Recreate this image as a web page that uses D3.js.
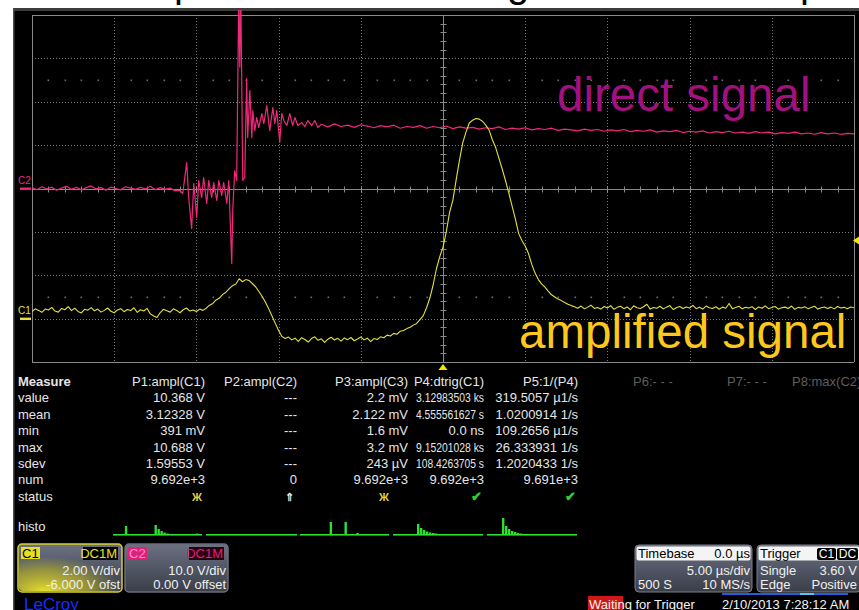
<!DOCTYPE html>
<html><head><meta charset="utf-8">
<script src="https://cdn.jsdelivr.net/npm/d3@7"></script>
<style>
html,body{margin:0;padding:0;background:#fff;overflow:hidden}
svg{display:block;font-family:"Liberation Sans",Arial,sans-serif}
</style></head><body>
<svg id="scope" width="859" height="610"></svg>
<script>
// ---- acquisition settings ----
// timebase 5.00 µs/div over 10 divisions, trigger at screen centre
const timeDomain = [-25, 25];
// C1: 2.00 V/div, -6.000 V offset -> screen spans -2 .. 14 V
const c1Domain = [-2, 14];
// C2: 10.0 V/div, 0.00 V offset -> screen spans -40 .. 40 V
const c2Domain = [-40, 40];
const triggerLevel = 3.60;

// ---- C1 (amplified signal), sampled every 0.2 µs from -25 µs ----
const c1Start = -25, c1Step = 0.2;
const c1Volts = [
  0.33,0.45,0.38,0.29,0.44,0.40,0.52,0.35,0.30,0.47,
  0.41,0.55,0.37,0.48,0.33,0.26,0.43,0.39,0.51,0.36,
  0.44,0.30,0.38,0.49,0.34,0.27,0.40,0.46,0.32,0.42,
  0.37,0.50,0.29,0.41,0.35,0.47,0.22,0.12,0.05,0.28,
  0.43,0.36,0.30,0.45,0.38,0.27,0.41,0.49,0.35,0.40,
  0.33,0.44,0.38,
  0.48,0.62,0.70,0.86,0.95,1.12,1.22,1.38,1.52,1.60,1.84,1.70,1.80,1.76,1.62,1.47,1.25,1.02,0.76,0.45,0.12,-0.22,-0.55,-0.82,-0.92,
  -0.85,-0.98,-0.90,-1.05,-0.88,-0.96,-1.08,-0.92,-0.84,-1.00,-0.93,-1.10,-0.95,-0.86,-0.99,-0.91,-1.04,-0.89,-0.97,-0.87,-1.02,-0.94,-0.85,-0.98,-0.90,-1.06,-0.92,-0.96,
  -0.84,-0.88,-0.76,-0.80,-0.68,-0.72,-0.58,-0.55,-0.46,-0.40,-0.30,-0.22,-0.05,0.14,0.50,0.95,1.55,2.30,2.85,3.30,
  4.00,4.90,5.45,6.40,7.30,8.10,8.60,9.02,9.15,9.23,9.20,9.10,8.92,8.70,8.25,7.90,7.40,6.90,6.37,5.80,
  5.20,4.60,3.93,3.60,3.35,3.00,2.50,2.10,1.80,1.60,1.45,1.27,1.10,1.00,0.90,0.83,0.74,0.66,0.60,
  0.55,0.48,0.58,0.45,0.53,0.62,0.47,0.51,0.44,0.56,
  0.49,0.60,0.43,0.52,0.57,0.46,0.54,0.41,0.59,0.50,
  0.47,0.55,0.66,0.44,0.51,0.48,0.57,0.45,0.53,0.60,
  0.42,0.50,0.56,0.47,0.54,0.49,0.61,0.46,0.52,0.44,
  0.58,0.50,0.47,0.55,0.43,0.53,0.48,0.70,0.46,0.51,
  0.57,0.45,0.52,0.49,0.55,0.42,0.54,0.48,0.59,0.46,
  0.51,0.56,0.44,0.50,0.53,0.47,0.58,0.43,0.52,0.49,
  0.55,0.46,0.51,0.57,0.44,0.50,0.54,0.47,0.53,0.45,
  0.56,0.49,0.52,0.46,0.54,0.50
];

// ---- C2 (direct signal), [time µs, volts] ----
const c2Points = [
  [-25.0,0.2],[-24.7,-0.3],[-24.4,0.4],[-24.1,-0.1],[-23.8,0.3],[-23.5,-0.4],[-23.2,0.1],[-22.9,0.5],[-22.6,-0.2],[-22.3,0.3],
  [-22.0,-0.3],[-21.7,0.2],[-21.4,0.6],[-21.1,-0.1],[-20.8,0.2],[-20.5,-0.4],[-20.2,0.3],[-19.9,0.0],[-19.6,-0.3],[-19.3,0.4],
  [-19.0,0.1],[-18.7,-0.2],[-18.4,0.3],[-18.1,-0.1],[-17.8,0.5],[-17.5,-0.3],[-17.2,0.2],[-16.9,-0.2],[-16.6,0.1],[-16.3,-0.5],
  [-16.02,-0.46],[-15.83,-1.15],[-15.59,5.99],[-15.47,-2.07],[-15.29,-9.22],[-15.16,1.15],[-14.98,-6.68],[-14.86,1.84],
  [-14.68,-2.07],[-14.56,2.53],[-14.37,-3.46],[-14.25,1.84],[-14.07,-2.07],[-13.95,1.38],[-13.76,-2.76],[-13.64,1.84],
  [-13.46,-1.61],[-13.34,1.38],[-13.15,-3.46],[-13.03,1.84],[-12.85,-17.28],[-12.79,-5.07],[-12.67,4.15],[-12.55,1.84],
  [-12.42,45],[-12.36,28],[-12.30,45],[-12.18,1.84],[-12.06,2.53],[-11.94,25.35],[-11.88,11.75],[-11.75,22.58],
  [-11.63,11.75],[-11.57,17.97],[-11.45,13.36],[-11.33,16.36],[-11.21,14.06],[-11.02,17.28],[-10.90,14.98],[-10.72,19.12],
  [-10.54,13.36],[-10.35,18.66],[-10.23,14.98],[-10.11,17.97],[-9.93,10.6],[-9.81,17.28],[-9.68,15.67],[-9.50,14.52],
  [-9.32,17.28],[-9.14,14.52],[-9.01,16.36],[-8.83,14.52],[-8.59,15.2],[-8.40,14.29],[-8.22,15.67],[-7.98,14.52],
  [-7.80,15.67],[-7.61,14.06],
  [-7.4,14.8],[-7.0,14.2],[-6.6,14.9],[-6.2,14.3],[-5.8,14.6],[-5.4,14.1],[-5.0,14.7],[-4.6,14.4],[-4.2,14.0],[-3.8,14.5],
  [-3.4,14.2],[-3.0,14.6],[-2.6,13.9],[-2.2,14.3],[-1.8,14.1],[-1.4,14.5],[-1.0,13.9],[-0.6,14.3],[-0.2,14.0],[0.2,14.4],
  [0.6,13.8],[1.0,14.2],[1.4,13.9],[1.8,14.1],[2.2,13.7],[2.6,14.0],[3.0,13.8],[3.4,14.2],[3.8,13.6],[4.2,13.9],
  [4.6,13.7],[5.0,14.0],[5.4,13.5],[5.8,13.8],[6.2,13.6],[6.6,13.9],[7.0,13.4],[7.4,13.7],[7.8,13.5],[8.2,13.3],
  [8.6,13.7],[9.0,13.4],[9.4,13.6],[9.8,13.2],[10.2,13.5],[10.6,13.3],[11.0,13.6],[11.4,13.1],[11.8,13.4],[12.2,13.2],
  [12.6,13.5],[13.0,13.0],[13.4,13.3],[13.8,13.1],[14.2,13.4],[14.6,12.9],[15.0,13.2],[15.4,13.0],[15.8,13.3],[16.2,12.8],
  [16.6,13.1],[17.0,12.9],[17.4,13.2],[17.8,12.8],[18.2,13.0],[18.6,12.7],[19.0,13.1],[19.4,12.8],[19.8,13.0],[20.2,12.6],
  [20.6,12.9],[21.0,12.7],[21.4,13.0],[21.8,12.6],[22.2,12.8],[22.6,12.5],[23.0,12.9],[23.4,12.6],[23.8,12.8],[24.2,12.5],
  [24.6,12.7],[25.0,12.6]
];

// ---- measurement table ----
const measureRows = ["value","mean","min","max","sdev","num","status"];
const measureHeaders = ["P1:ampl(C1)","P2:ampl(C2)","P3:ampl(C3)","P4:dtrig(C1)","P5:1/(P4)"];
const p1Values = ["10.368 V","3.12328 V","391 mV","10.688 V","1.59553 V","9.692e+3"];
const p2Values = ["---","---","---","---","---","0"];
const p3Values = ["2.2 mV","2.122 mV","1.6 mV","3.2 mV","243 µV","9.692e+3"];
const p4Values = ["3.12983503 ks","4.555561627 s","0.0 ns","9.15201028 ks","108.4263705 s","9.692e+3"];
const p5Values = ["319.5057 µ1/s","1.0200914 1/s","109.2656 µ1/s","26.333931 1/s","1.2020433 1/s","9.691e+3"];
const statusMarks = ["Ж","⇑","Ж","✔","✔"];
const idleHeaders = ["P6:- - -","P7:- - -","P8:max(C2)"];

// ---- per-parameter histograms (30 bins each) ----
const histoP1 = [0,0,0,0,9,0,0,0,0,0,0,0,0,0,10,6,4,2.5,1.5,1,0.5,0,0,0,0,0,0,0.5,1.5,0];
const histoP2 = [0,0,0,0,0,0,0,0,0,0,0,0,0,0,0,0,0,0,0,0,0,0,0,0,0,0,0,0,0,0];
const histoP3 = [0,0,0,0,0,1,0,0,0,0,13,0,0,0,0,13,0,0,0,2,0,0,0,0,1,0,0,0,0,1];
const histoP4 = [0,0,0,0,0,0,0,0,11,7,5,3.5,2.5,2,1.5,1,1,0.5,0.5,0.5,0.5,0,0,0,0,0,0,0,0,0];
const histoP5 = [0,0,0,0,0,17,9,6,4,3,2,1.5,1,1,0.5,0.5,0.5,0.5,0,0,0,0,0,0,0,0,0,0,0,0.5];

// ---- channel / timebase / trigger descriptors ----
const c1Info = ["C1","DC1M","2.00 V/div","-6.000 V ofst"];
const c2Info = ["C2","DC1M","10.0 V/div","0.00 V offset"];
const timebaseInfo = ["Timebase","0.0 µs","5.00 µs/div","500 S","10 MS/s"];
const triggerInfo = ["Trigger","C1","DC","Single","3.60 V","Edge","Positive"];
const statusText = "Waiting for Trigger";
const dateText = "2/10/2013 7:28:12 AM";

// ================= drawing =================
const svg = d3.select("#scope");
const G = {left: 32, right: 854, top: 15, bottom: 362};
const YEL = "#e4e040", PINK = "#f0287c", TXT = "#e6e6e6";
const crisp = v => Math.round(v) + 0.5;

const x = d3.scaleLinear().domain(timeDomain).range([G.left, G.right]);
const y1 = d3.scaleLinear().domain(c1Domain).range([G.bottom, G.top]);
const y2 = d3.scaleLinear().domain(c2Domain).range([G.bottom, G.top]);
const yDiv = d3.scaleLinear().domain([-4, 4]).range([G.bottom, G.top]);
const xDiv = d3.scaleLinear().domain([-5, 5]).range([G.left, G.right]);

// slide title line above the screen (mostly hidden behind it)
svg.append("g").attr("font-size", 40).attr("fill", "#000")
  .selectAll("text").data([["p",174],["g",507],["p",800]]).join("text")
  .attr("x", d => d[1]).attr("y", -3).text(d => d[0]);

// scope screen
svg.append("rect").attr("x", 13).attr("y", 8).attr("width", 846).attr("height", 602).attr("fill", "#000");
svg.append("rect").attr("x", 13).attr("y", 8).attr("width", 846).attr("height", 3).attr("fill", "#3c3c3c");
svg.append("rect").attr("x", 13).attr("y", 8).attr("width", 1.5).attr("height", 602).attr("fill", "#4a4a4a");

// graticule
const grid = svg.append("g");
d3.range(-4, 5).forEach(d => {
  const solid = d === 0 || Math.abs(d) === 4;
  grid.append("line").attr("x1", G.left).attr("x2", G.right)
    .attr("y1", crisp(yDiv(d))).attr("y2", crisp(yDiv(d)))
    .attr("stroke", solid ? "#8a8a8a" : "#7a7a7a")
    .attr("stroke-dasharray", solid ? null : "1 2");
});
d3.range(-5, 6).forEach(d => {
  const solid = d === 0 || Math.abs(d) === 5;
  grid.append("line").attr("y1", G.top).attr("y2", G.bottom)
    .attr("x1", crisp(xDiv(d))).attr("x2", crisp(xDiv(d)))
    .attr("stroke", solid ? "#8a8a8a" : "#7a7a7a")
    .attr("stroke-dasharray", solid ? null : "1 2");
});
// minor ticks on the centre axes
d3.range(-25, 25.01, 1).forEach(t => {
  grid.append("line").attr("x1", crisp(x(t))).attr("x2", crisp(x(t)))
    .attr("y1", crisp(yDiv(0)) - 3).attr("y2", crisp(yDiv(0)) + 3).attr("stroke", "#8a8a8a");
});
d3.range(-4, 4.01, 0.2).forEach(d => {
  grid.append("line").attr("y1", crisp(yDiv(d))).attr("y2", crisp(yDiv(d)))
    .attr("x1", crisp(xDiv(0)) - 3).attr("x2", crisp(xDiv(0)) + 3).attr("stroke", "#8a8a8a");
});
// dotted rows at ±2.5 div
[-2.5, 2.5].forEach(d => {
  d3.range(-5, 5.01, 0.2).forEach(c => {
    if (Math.abs(c - Math.round(c)) < 0.01) return;
    grid.append("rect").attr("x", Math.round(xDiv(c)) - 0.5).attr("y", Math.round(yDiv(d)) - 0.5)
      .attr("width", 1.6).attr("height", 1.6).attr("fill", "#6e6e6e");
  });
});

// traces
svg.append("clipPath").attr("id", "screenClip").append("rect")
  .attr("x", G.left).attr("y", 10).attr("width", G.right - G.left).attr("height", G.bottom - 10);
const traces = svg.append("g").attr("clip-path", "url(#screenClip)");
const c2Line = d3.line().x(d => x(d[0])).y(d => y2(d[1]));
traces.append("path").datum(c2Points).attr("d", c2Line)
  .attr("fill", "none").attr("stroke", PINK).attr("stroke-width", 1.2).attr("stroke-linejoin", "round");
const c1Line = d3.line().x((d, i) => x(c1Start + i * c1Step)).y(d => y1(d));
traces.append("path").datum(c1Volts).attr("d", c1Line)
  .attr("fill", "none").attr("stroke", YEL).attr("stroke-width", 1.1).attr("stroke-linejoin", "round");

// channel ground markers
svg.append("text").attr("x", 18).attr("y", y2(0) - 5).attr("font-size", 10).attr("fill", PINK).text("C2");
svg.append("rect").attr("x", 20).attr("y", y2(0) - 1).attr("width", 11).attr("height", 2.4).attr("fill", PINK);
svg.append("text").attr("x", 18).attr("y", y1(0) - 5).attr("font-size", 10).attr("fill", YEL).text("C1");
svg.append("rect").attr("x", 20).attr("y", y1(0) - 1).attr("width", 11).attr("height", 2.4).attr("fill", YEL);

// trigger level and trigger position markers
const ty = y1(triggerLevel);
svg.append("path").attr("d", `M859,${ty - 4}L853,${ty}L859,${ty + 4}Z`).attr("fill", "#f2e600");
const tx = x(0);
svg.append("path").attr("d", `M${tx},${G.bottom + 2}L${tx - 4.5},${G.bottom + 8}L${tx + 4.5},${G.bottom + 8}Z`).attr("fill", "#f2e600");

// signal annotations
svg.append("text").attr("x", 557).attr("y", 111).attr("font-size", 47.5).attr("fill", "#a2117f").text("direct signal");
svg.append("text").attr("x", 519).attr("y", 348).attr("font-size", 47.5).attr("fill", "#fcc81c").text("amplified signal");

// measurement table
const table = svg.append("g").attr("font-size", 13).attr("fill", TXT);
const rowY = i => 386 + i * 16.4;
const colRight = [205, 297, 408, 484, 578];
const colMaxWidth = [80, 80, 80, 68, 84];
table.append("text").attr("x", 18).attr("y", rowY(0)).attr("font-weight", "bold").text("Measure");
measureRows.forEach((r, i) => table.append("text").attr("x", 18).attr("y", rowY(i + 1)).text(r));
measureHeaders.forEach((h, j) => table.append("text").attr("x", colRight[j]).attr("y", rowY(0))
  .attr("text-anchor", "end").text(h));
[p1Values, p2Values, p3Values, p4Values, p5Values].forEach((col, j) => {
  col.forEach((v, i) => {
    const t = table.append("text").attr("x", colRight[j]).attr("y", rowY(i + 1))
      .attr("text-anchor", "end").text(v);
    // long readouts use the instrument's condensed digits
    if (t.node().getComputedTextLength() > colMaxWidth[j]) {
      t.attr("textLength", colMaxWidth[j]).attr("lengthAdjust", "spacingAndGlyphs");
    }
  });
});
const statusColors = ["#e0d040", "#e6e6e6", "#e0d040", "#30d030", "#30d030"];
const statusX = [197, 289, 384, 476, 570];
statusMarks.forEach((s, j) => table.append("text").attr("x", statusX[j]).attr("y", rowY(7))
  .attr("text-anchor", "middle").attr("font-size", s === "✔" ? 13 : 11)
  .attr("fill", statusColors[j]).attr("font-weight", "bold").text(s));
const idleX = [633, 727, 792];
idleHeaders.forEach((h, j) => table.append("text").attr("x", idleX[j]).attr("y", rowY(0))
  .attr("fill", "#5e5e5e").text(h));

// histograms
table.append("text").attr("x", 18).attr("y", 531).text("histo");
const histoBase = 535;
const histoSpans = [[113, 202], [206, 297], [300, 389], [393, 483], [487, 577]];
const hy = d3.scaleLinear().domain([0, 20]).range([histoBase, histoBase - 20]);
[histoP1, histoP2, histoP3, histoP4, histoP5].forEach((bins, j) => {
  const bx = d3.scaleLinear().domain([0, bins.length]).range(histoSpans[j]);
  const g = svg.append("g").attr("fill", "#2ee02e");
  g.append("rect").attr("x", bx(0)).attr("y", histoBase - 1).attr("width", bx(bins.length) - bx(0)).attr("height", 1.6);
  g.selectAll("rect.bin").data(bins).join("rect").attr("class", "bin")
    .attr("x", (d, i) => bx(i)).attr("width", (d, i) => bx(i + 1) - bx(i) - 0.6)
    .attr("y", d => hy(d)).attr("height", d => histoBase - hy(d));
});

// channel descriptor boxes
const defs = svg.append("defs");
const boxGrad = defs.append("linearGradient").attr("id", "boxGrad").attr("x1", 0).attr("y1", 0).attr("x2", 0).attr("y2", 1);
boxGrad.append("stop").attr("offset", "0%").attr("stop-color", "#6c7282");
boxGrad.append("stop").attr("offset", "55%").attr("stop-color", "#4e5462");
boxGrad.append("stop").attr("offset", "100%").attr("stop-color", "#3a3e48");
const glow = defs.append("radialGradient").attr("id", "c1Glow").attr("cx", 0.25).attr("cy", 1).attr("r", 0.75);
glow.append("stop").attr("offset", "0%").attr("stop-color", "#e8e030").attr("stop-opacity", 1);
glow.append("stop").attr("offset", "60%").attr("stop-color", "#c8c028").attr("stop-opacity", 0.6);
glow.append("stop").attr("offset", "100%").attr("stop-color", "#c8c028").attr("stop-opacity", 0);

function channelBox(x0, w, info, edge, tagBg, tagFg, cplBg, cplFg, glowFill) {
  const g = svg.append("g").attr("font-size", 13);
  g.append("rect").attr("x", x0).attr("y", 544).attr("width", w).attr("height", 48).attr("rx", 4)
    .attr("fill", "url(#boxGrad)").attr("stroke", edge).attr("stroke-width", 1.5);
  if (glowFill) g.append("rect").attr("x", x0 + 1).attr("y", 545).attr("width", w - 2).attr("height", 46).attr("rx", 4)
    .attr("fill", glowFill);
  g.append("rect").attr("x", x0 + 3).attr("y", 547).attr("width", 19).attr("height", 12).attr("fill", tagBg);
  g.append("text").attr("x", x0 + 4).attr("y", 557.5).attr("fill", tagFg).text(info[0]);
  g.append("rect").attr("x", x0 + w - 39).attr("y", 547).attr("width", 35).attr("height", 13).attr("fill", cplBg);
  g.append("text").attr("x", x0 + w - 5).attr("y", 558).attr("text-anchor", "end").attr("fill", cplFg).text(info[1]);
  g.append("text").attr("x", x0 + w - 2).attr("y", 575).attr("text-anchor", "end").attr("fill", "#f0f0f0").text(info[2]);
  g.append("text").attr("x", x0 + w - 2).attr("y", 589).attr("text-anchor", "end").attr("fill", "#f0f0f0").text(info[3]);
}
channelBox(18, 104, c1Info, "#d8d030", "#e8e020", "#000", "#000", "#e8e020", "url(#c1Glow)");
channelBox(125, 103, c2Info, "#6a6e78", "#e0207a", "#ff90c8", "#2a0010", "#e0207a", null);

// timebase and trigger boxes
function infoBox(x0, w) {
  const g = svg.append("g").attr("font-size", 13);
  g.append("rect").attr("x", x0).attr("y", 545).attr("width", w).attr("height", 47).attr("rx", 4)
    .attr("fill", "url(#boxGrad)").attr("stroke", "#7a7e88");
  g.append("rect").attr("x", x0 + 1.5).attr("y", 546.5).attr("width", w - 3).attr("height", 14).attr("rx", 2).attr("fill", "#f4f4f4");
  return g;
}
const tb = infoBox(635, 117);
tb.append("text").attr("x", 638).attr("y", 558).attr("fill", "#000").text(timebaseInfo[0]);
tb.append("text").attr("x", 750).attr("y", 558).attr("text-anchor", "end").attr("fill", "#000").text(timebaseInfo[1]);
tb.append("text").attr("x", 750).attr("y", 575).attr("text-anchor", "end").attr("fill", "#f0f0f0").text(timebaseInfo[2]);
tb.append("text").attr("x", 638).attr("y", 589).attr("fill", "#f0f0f0").text(timebaseInfo[3]);
tb.append("text").attr("x", 750).attr("y", 589).attr("text-anchor", "end").attr("fill", "#f0f0f0").text(timebaseInfo[4]);
const tr = infoBox(757, 104);
tr.append("text").attr("x", 760).attr("y", 558).attr("fill", "#000").text(triggerInfo[0]);
tr.append("rect").attr("x", 817).attr("y", 548).attr("width", 19).attr("height", 12).attr("rx", 2).attr("fill", "#000");
tr.append("rect").attr("x", 837).attr("y", 548).attr("width", 21).attr("height", 12).attr("rx", 2).attr("fill", "#000");
tr.append("text").attr("x", 826.5).attr("y", 558).attr("text-anchor", "middle").attr("fill", "#fff").attr("font-size", 12).text(triggerInfo[1]);
tr.append("text").attr("x", 847.5).attr("y", 558).attr("text-anchor", "middle").attr("fill", "#fff").attr("font-size", 12).text(triggerInfo[2]);
tr.append("text").attr("x", 760).attr("y", 575).attr("fill", "#f0f0f0").text(triggerInfo[3]);
tr.append("text").attr("x", 857).attr("y", 575).attr("text-anchor", "end").attr("fill", "#f0f0f0").text(triggerInfo[4]);
tr.append("text").attr("x", 760).attr("y", 589).attr("fill", "#f0f0f0").text(triggerInfo[5]);
tr.append("text").attr("x", 857).attr("y", 589).attr("text-anchor", "end").attr("fill", "#f0f0f0").text(triggerInfo[6]);

// status line
svg.append("rect").attr("x", 588).attr("y", 596).attr("width", 35).attr("height", 14).attr("fill", "#d01818");
svg.append("text").attr("x", 589).attr("y", 609).attr("font-size", 13).attr("fill", "#f4f4f4").text(statusText);
svg.append("rect").attr("x", 722).attr("y", 593).attr("width", 126).attr("height", 2).attr("fill", "#2060e0");
svg.append("rect").attr("x", 800).attr("y", 593).attr("width", 14).attr("height", 2).attr("fill", "#60c0f0");
svg.append("text").attr("x", 722).attr("y", 609).attr("font-size", 13).attr("fill", "#f4f4f4").text(dateText);

// maker mark
svg.append("text").attr("x", 24).attr("y", 610).attr("font-size", 17).attr("fill", "#1a2cff").text("LeCroy");
</script>
</body></html>
